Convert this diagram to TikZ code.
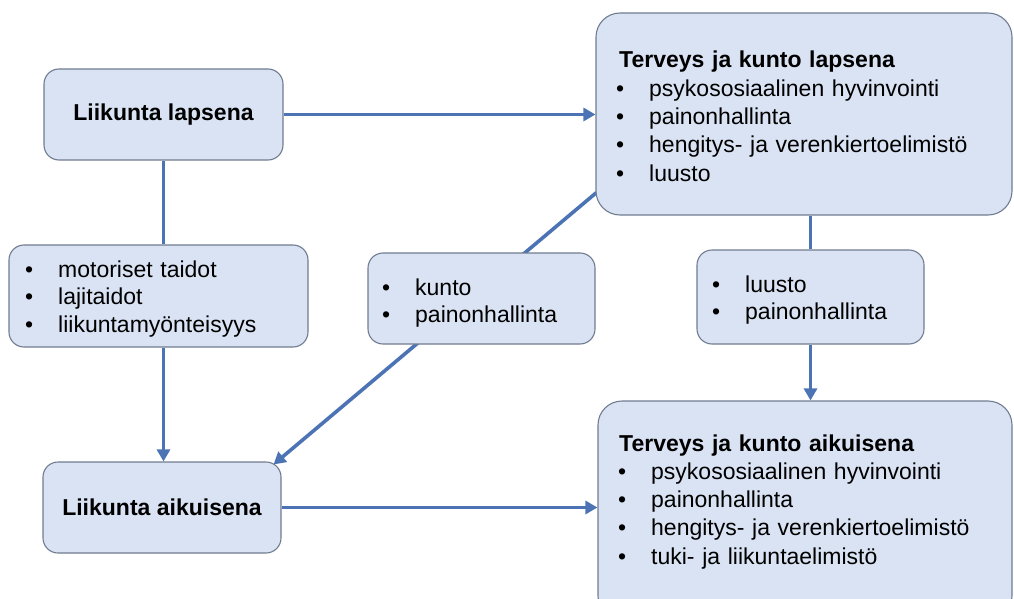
\documentclass[tikz,border=0pt]{standalone}
\usepackage{fontspec}
\setmainfont{Liberation Sans}
\usetikzlibrary{arrows.meta,calc,backgrounds}
\definecolor{boxfill}{HTML}{DAE3F3}
\definecolor{boxline}{HTML}{707C90}
\definecolor{conn}{HTML}{4C74B5}
\tikzset{
  box/.style={draw=boxline, fill=boxfill, line width=1.1pt, rounded corners=15pt, inner sep=0pt},
  bigbox/.style={box, rounded corners=24pt},
  txt/.style={inner sep=0pt, anchor=base west, align=left, text width=380pt,
    font=\fontsize{23}{28.3}\selectfont},
  ttl/.style={font=\fontsize{23}{28}\selectfont\bfseries, align=center},
  link/.style={draw=conn, line width=3.6pt},
  arr/.style={link, -{Triangle[length=12pt,width=13pt]}},
}
\newcommand{\bul}{\makebox[33pt][l]{•}}
\begin{document}
\begin{tikzpicture}[x=1pt,y=-1pt]
\useasboundingbox (0,0) rectangle (1014,599);
\clip (0,0) rectangle (1014,599);
% boxes
\node[box, minimum width=239pt, minimum height=91pt, ttl] (A) at (163.5,114.5) {Liikunta lapsena};
\node[bigbox, minimum width=416pt, minimum height=202pt] (TL) at (804,114) {};
\node[box, minimum width=299pt, minimum height=102pt] (M) at (158.5,296) {};
\node[box, minimum width=227pt, minimum height=91pt] (K) at (481.5,298.5) {};
\node[box, minimum width=227pt, minimum height=94pt] (LU) at (810.5,297) {};
\node[box, minimum width=238pt, minimum height=91pt, ttl] (LA) at (162,507.5) {Liikunta aikuisena};
\node[bigbox, minimum width=414pt, minimum height=219pt] (BR) at (805,510.5) {};
% texts
\node[txt] (TLt) at (616,68) {\hspace*{3pt}\textbf{Terveys ja kunto lapsena}\\
\bul psykososiaalinen hyvinvointi\\
\bul painonhallinta\\
\bul hengitys- ja verenkiertoelimistö\\
\bul luusto};
\node[txt] (BRt) at (618,451) {\hspace*{1pt}\textbf{Terveys ja kunto aikuisena}\\
\bul psykososiaalinen hyvinvointi\\
\bul painonhallinta\\
\bul hengitys- ja verenkiertoelimistö\\
\bul tuki- ja liikuntaelimistö};
\node[txt, font=\fontsize{23}{27.5}\selectfont] (Mt) at (25,277) {\bul motoriset taidot\\
\bul lajitaidot\\
\bul liikuntamyönteisyys};
\node[txt, font=\fontsize{23}{27}\selectfont] (Kt) at (382,295) {\bul kunto\\
\bul painonhallinta};
\node[txt, font=\fontsize{23}{27}\selectfont] (LUt) at (712,292) {\bul luusto\\
\bul painonhallinta};
% connectors
\begin{scope}[on background layer]
\coordinate (d1) at ($(TL.south west)+(1,-23)$);
\coordinate (d2) at ($(LA.north east)+(-8,3)$);
\draw[arr] (d1) -- (d2);
\end{scope}
\draw[arr] (A.east) -- (A.east -| TL.west);
\draw[link] (A.south) -- (A.south |- M.north);
\draw[arr] (A.south |- M.south) -- (A.south |- LA.north);
\draw[link] (LU.north |- TL.south) -- (LU.north);
\draw[arr] (LU.south) -- (LU.south |- BR.north);
\draw[arr] (LA.east) -- (LA.east -| BR.west);
\end{tikzpicture}
\end{document}
